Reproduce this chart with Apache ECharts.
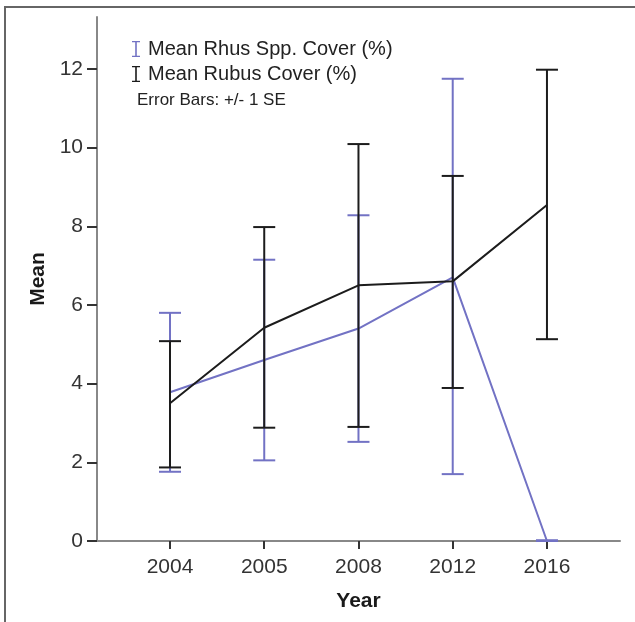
<!DOCTYPE html>
<html><head><meta charset="utf-8">
<script src="https://cdn.jsdelivr.net/npm/echarts@6/dist/echarts.min.js"></script>
<style>html,body{margin:0;padding:0;background:#fff}#c{width:635px;height:622px}</style>
</head><body><div id="c"></div>
<script>
const years = ['2004','2005','2008','2012','2016'];
const rhusMean  = [3.78, 4.60, 5.40, 6.70, 0.00];
const rhusUpper = [5.80, 7.15, 8.28, 11.75, 0.02];
const rhusLower = [1.76, 2.05, 2.52, 1.70, 0.00];
const rubusMean  = [3.50, 5.42, 6.50, 6.60, 8.54];
const rubusUpper = [5.08, 7.98, 10.09, 9.28, 11.98];
const rubusLower = [1.87, 2.88, 2.90, 3.89, 5.13];
const yTicks = [0, 2, 4, 6, 8, 10, 12];
const xIdx = years.map((y, i) => i);

const BLUE = '#7272c4', BLACK = '#1c1c1c';
const FONT = '"Liberation Sans", Arial, sans-serif';
const ibeam = 'path://M0,0H10V1.6H6V18.4H10V20H0V18.4H4V1.6H0Z';

function errData(lo, hi) { return xIdx.map(i => [i, lo[i], hi[i]]); }
function errRender(color) {
  return function (params, api) {
    const x = api.value(0);
    const a = api.coord([x, api.value(1)]);
    const b = api.coord([x, api.value(2)]);
    const hw = 11;
    const st = { stroke: color, lineWidth: 2 };
    return { type: 'group', children: [
      { type: 'line', shape: { x1: a[0], y1: a[1], x2: b[0], y2: b[1] }, style: st },
      { type: 'line', shape: { x1: a[0]-hw, y1: a[1], x2: a[0]+hw, y2: a[1] }, style: st },
      { type: 'line', shape: { x1: b[0]-hw, y1: b[1], x2: b[0]+hw, y2: b[1] }, style: st }
    ]};
  };
}

const chart = echarts.init(document.getElementById('c'));
chart.setOption({
  animation: false,
  grid: { left: 97, top: 17, right: 15, bottom: 81 },
  graphic: [
    { type: 'rect', shape: { x: 5, y: 7, width: 700, height: 700 }, style: { fill: 'none', stroke: '#666', lineWidth: 2 }, z: -1 },
    { type: 'text', left: 137, top: 92, style: { text: 'Error Bars: +/- 1 SE', font: '17px ' + FONT, fill: '#222' } }
  ],
  legend: {
    left: 127, top: 34, orient: 'vertical', itemGap: 5, itemWidth: 10, itemHeight: 16,
    textStyle: { fontSize: 20, color: '#222', fontFamily: FONT, padding: [0,0,0,2] },
    data: [
      { name: 'Mean Rhus Spp. Cover (%)', icon: ibeam, itemStyle: { color: BLUE } },
      { name: 'Mean Rubus Cover (%)', icon: ibeam, itemStyle: { color: BLACK } }
    ]
  },
  xAxis: {
    type: 'value', min: -0.7745, max: 4.775,
    name: 'Year', nameLocation: 'middle', nameGap: 50,
    nameTextStyle: { fontSize: 21, fontWeight: 'bold', color: '#1a1a1a', fontFamily: FONT },
    splitLine: { show: false },
    axisLine: { onZero: false, lineStyle: { color: '#888', width: 2 } },
    axisTick: { customValues: xIdx, length: 8, lineStyle: { color: '#333', width: 2 } },
    axisLabel: { customValues: xIdx, formatter: v => years[Math.round(v)], fontSize: 21, color: '#333', margin: 16, fontFamily: FONT }
  },
  yAxis: {
    type: 'value', min: 0, max: 13.32,
    name: 'Mean', nameLocation: 'middle', nameGap: 47, nameRotate: 90,
    nameTextStyle: { fontSize: 21, fontWeight: 'bold', color: '#1a1a1a', fontFamily: FONT },
    splitLine: { show: false },
    axisLine: { show: true, onZero: false, lineStyle: { color: '#888', width: 2 } },
    axisTick: { show: true, customValues: yTicks, length: 10, lineStyle: { color: '#333', width: 2 } },
    axisLabel: { customValues: yTicks, fontSize: 21, color: '#333', margin: 14, fontFamily: FONT }
  },
  series: [
    { name: 'Mean Rhus Spp. Cover (%)', type: 'custom', renderItem: errRender(BLUE), data: errData(rhusLower, rhusUpper), itemStyle: { color: BLUE }, z: 2 },
    { name: 'Mean Rhus Spp. Cover (%)', type: 'line', data: xIdx.map(i => [i, rhusMean[i]]), symbol: 'none', lineStyle: { color: BLUE, width: 2 }, itemStyle: { color: BLUE }, z: 3 },
    { name: 'Mean Rubus Cover (%)', type: 'custom', renderItem: errRender(BLACK), data: errData(rubusLower, rubusUpper), itemStyle: { color: BLACK }, z: 4 },
    { name: 'Mean Rubus Cover (%)', type: 'line', data: xIdx.map(i => [i, rubusMean[i]]), symbol: 'none', lineStyle: { color: BLACK, width: 2 }, itemStyle: { color: BLACK }, z: 5 }
  ]
});
</script></body></html>
